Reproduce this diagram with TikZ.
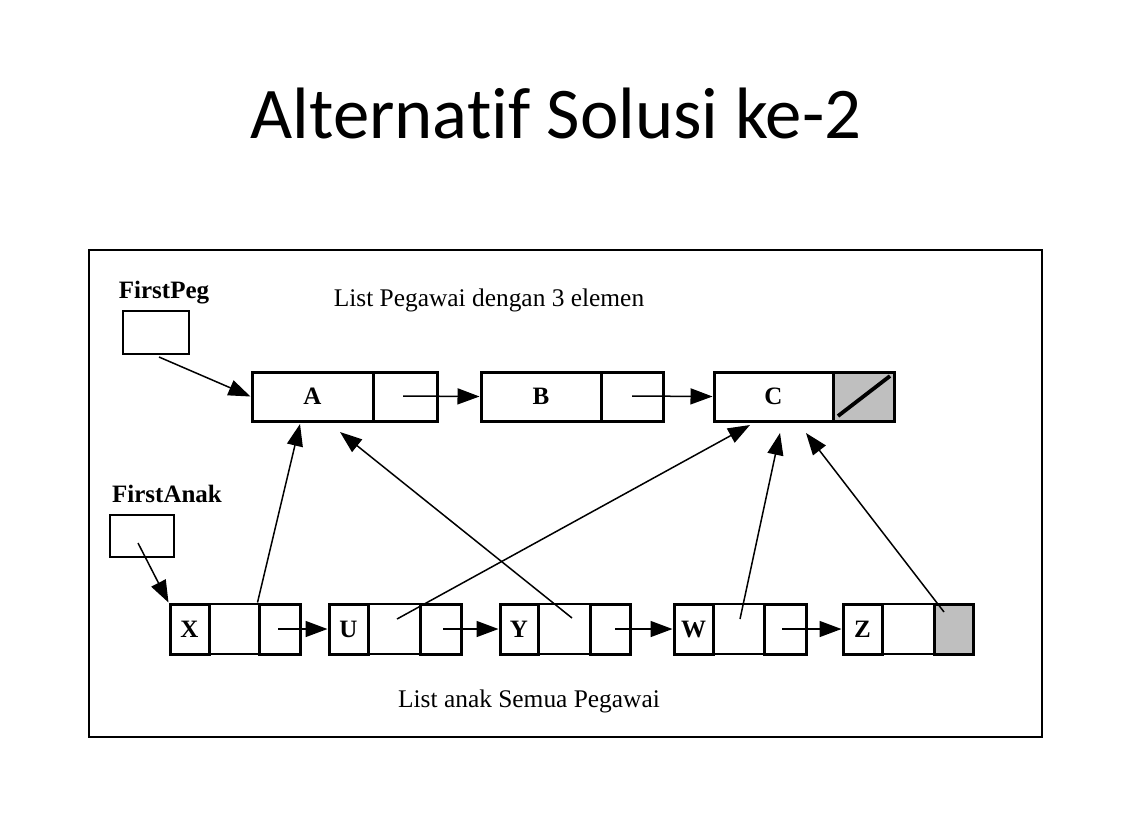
\documentclass[tikz,border=0pt]{standalone}
\usepackage{fontspec}
\setmainfont{Liberation Serif}
\newfontfamily\titlefont[Ligatures=NoCommon]{Carlito}
\usetikzlibrary{arrows.meta,fit}
\tikzset{
  cell/.style={draw, line width=1.5pt, inner sep=0pt},
  midcell/.style={draw, line width=0.9pt, inner sep=0pt},
  headbox/.style={draw, line width=0.9pt, inner sep=0pt},
  nilcell/.style={cell, fill=black!25},
  ptr/.style={line width=0.75pt, -{Triangle[length=11pt,width=8pt]}},
  lbl/.style={font=\fontsize{12.5pt}{14pt}\selectfont\bfseries, inner sep=0pt},
  captext/.style={font=\fontsize{12.7pt}{15pt}\selectfont, inner sep=0pt},
}
\begin{document}
\begin{tikzpicture}[x=0.5pt,y=-0.5pt]
\useasboundingbox (0,0) rectangle (1143,815);
% title
\node[font=\titlefont\fontsize{36.4pt}{40pt}\selectfont, anchor=base, inner sep=0pt] (title) at (556,138) {Alternatif Solusi ke-2};
% frame
\node[draw, line width=1.1pt, inner sep=0pt, fit={(89,250) (1042,737)}] (frame) {};
% captions
\node[captext] (capTop) at (489,300) {List Pegawai dengan 3 elemen};
\node[captext] (capBot) at (529,701) {List anak Semua Pegawai};
% heads
\node[lbl] (fpl) at (164,293) {FirstPeg};
\node[headbox, fit={(123,311) (189,354)}] (fp) {};
\node[lbl] (fal) at (167,494) {FirstAnak};
\node[headbox, fit={(110,515) (174,557)}] (fa) {};
% top list
\node[cell, fit={(252,372) (373,421)}] (A) {};
\node[cell, fit={(373,372) (437,421)}] (An) {};
\node[cell, fit={(481,372) (601,421)}] (B) {};
\node[cell, fit={(601,372) (663,421)}] (Bn) {};
\node[cell, fit={(714,372) (833,421)}] (C) {};
\node[nilcell, fit={(833,372) (894,421)}] (Cn) {};
\node[lbl] (Al) at (A.center) {A};
\node[lbl] (Bl) at (B.center) {B};
\node[lbl] (Cl) at (C.center) {C};
\draw[line width=1.9pt] (838,416) -- (890,376);
% bottom list
\node[cell, fit={(170,604) (209,654)}] (X) {};
\node[midcell, fit={(209,604) (259,654)}] (Xm) {};
\node[cell, fit={(259,604) (300,654)}] (Xn) {};
\node[cell, fit={(329,604) (368,654)}] (U) {};
\node[midcell, fit={(368,604) (420,654)}] (Um) {};
\node[cell, fit={(420,604) (461,654)}] (Un) {};
\node[cell, fit={(500,604) (538,654)}] (Y) {};
\node[midcell, fit={(538,604) (590,654)}] (Ym) {};
\node[cell, fit={(590,604) (630,654)}] (Yn) {};
\node[cell, fit={(674,604) (713,654)}] (W) {};
\node[midcell, fit={(713,604) (764,654)}] (Wm) {};
\node[cell, fit={(764,604) (806,654)}] (Wn) {};
\node[cell, fit={(843,604) (882,654)}] (Z) {};
\node[midcell, fit={(882,604) (934,654)}] (Zm) {};
\node[nilcell, fit={(934,604) (973,654)}] (Zn) {};
\foreach \nm in {X,U,Y,W,Z} \node[lbl] (\nm l) at (\nm.center) {\nm};
% pointer start coordinates
\coordinate (fpS) at (159,357);
\coordinate (faS) at (138,543);
\coordinate (AnS) at (403,396);
\coordinate (BnS) at (632,396);
\coordinate (XnS) at (278,629);
\coordinate (UnS) at (443,629);
\coordinate (YnS) at (615,629);
\coordinate (WnS) at (782,629);
\coordinate (UmS) at (397,619);
\coordinate (YmS) at (572,618);
\coordinate (WmS) at (740,619);
\coordinate (ZnS) at (944,612);
% targets
\coordinate (A1) at (300,424);
\coordinate (A2) at (340,432);
\coordinate (C1) at (750,425);
\coordinate (C2) at (780,433);
\coordinate (C3) at (806,433);
% connectors
\draw[ptr] (fpS) -- (A.west);
\draw[ptr] (faS) -- (X.north west);
\draw[ptr] (AnS) -- (B.west);
\draw[ptr] (BnS) -- (C.west);
\draw[ptr] (XnS) -- (U.west);
\draw[ptr] (UnS) -- (Y.west);
\draw[ptr] (YnS) -- (W.west);
\draw[ptr] (WnS) -- (Z.west);
\draw[ptr] (Xn.north west) -- (A1);
\draw[ptr] (YmS) -- (A2);
\draw[ptr] (UmS) -- (C1);
\draw[ptr] (WmS) -- (C2);
\draw[ptr] (ZnS) -- (C3);
\end{tikzpicture}
\end{document}
